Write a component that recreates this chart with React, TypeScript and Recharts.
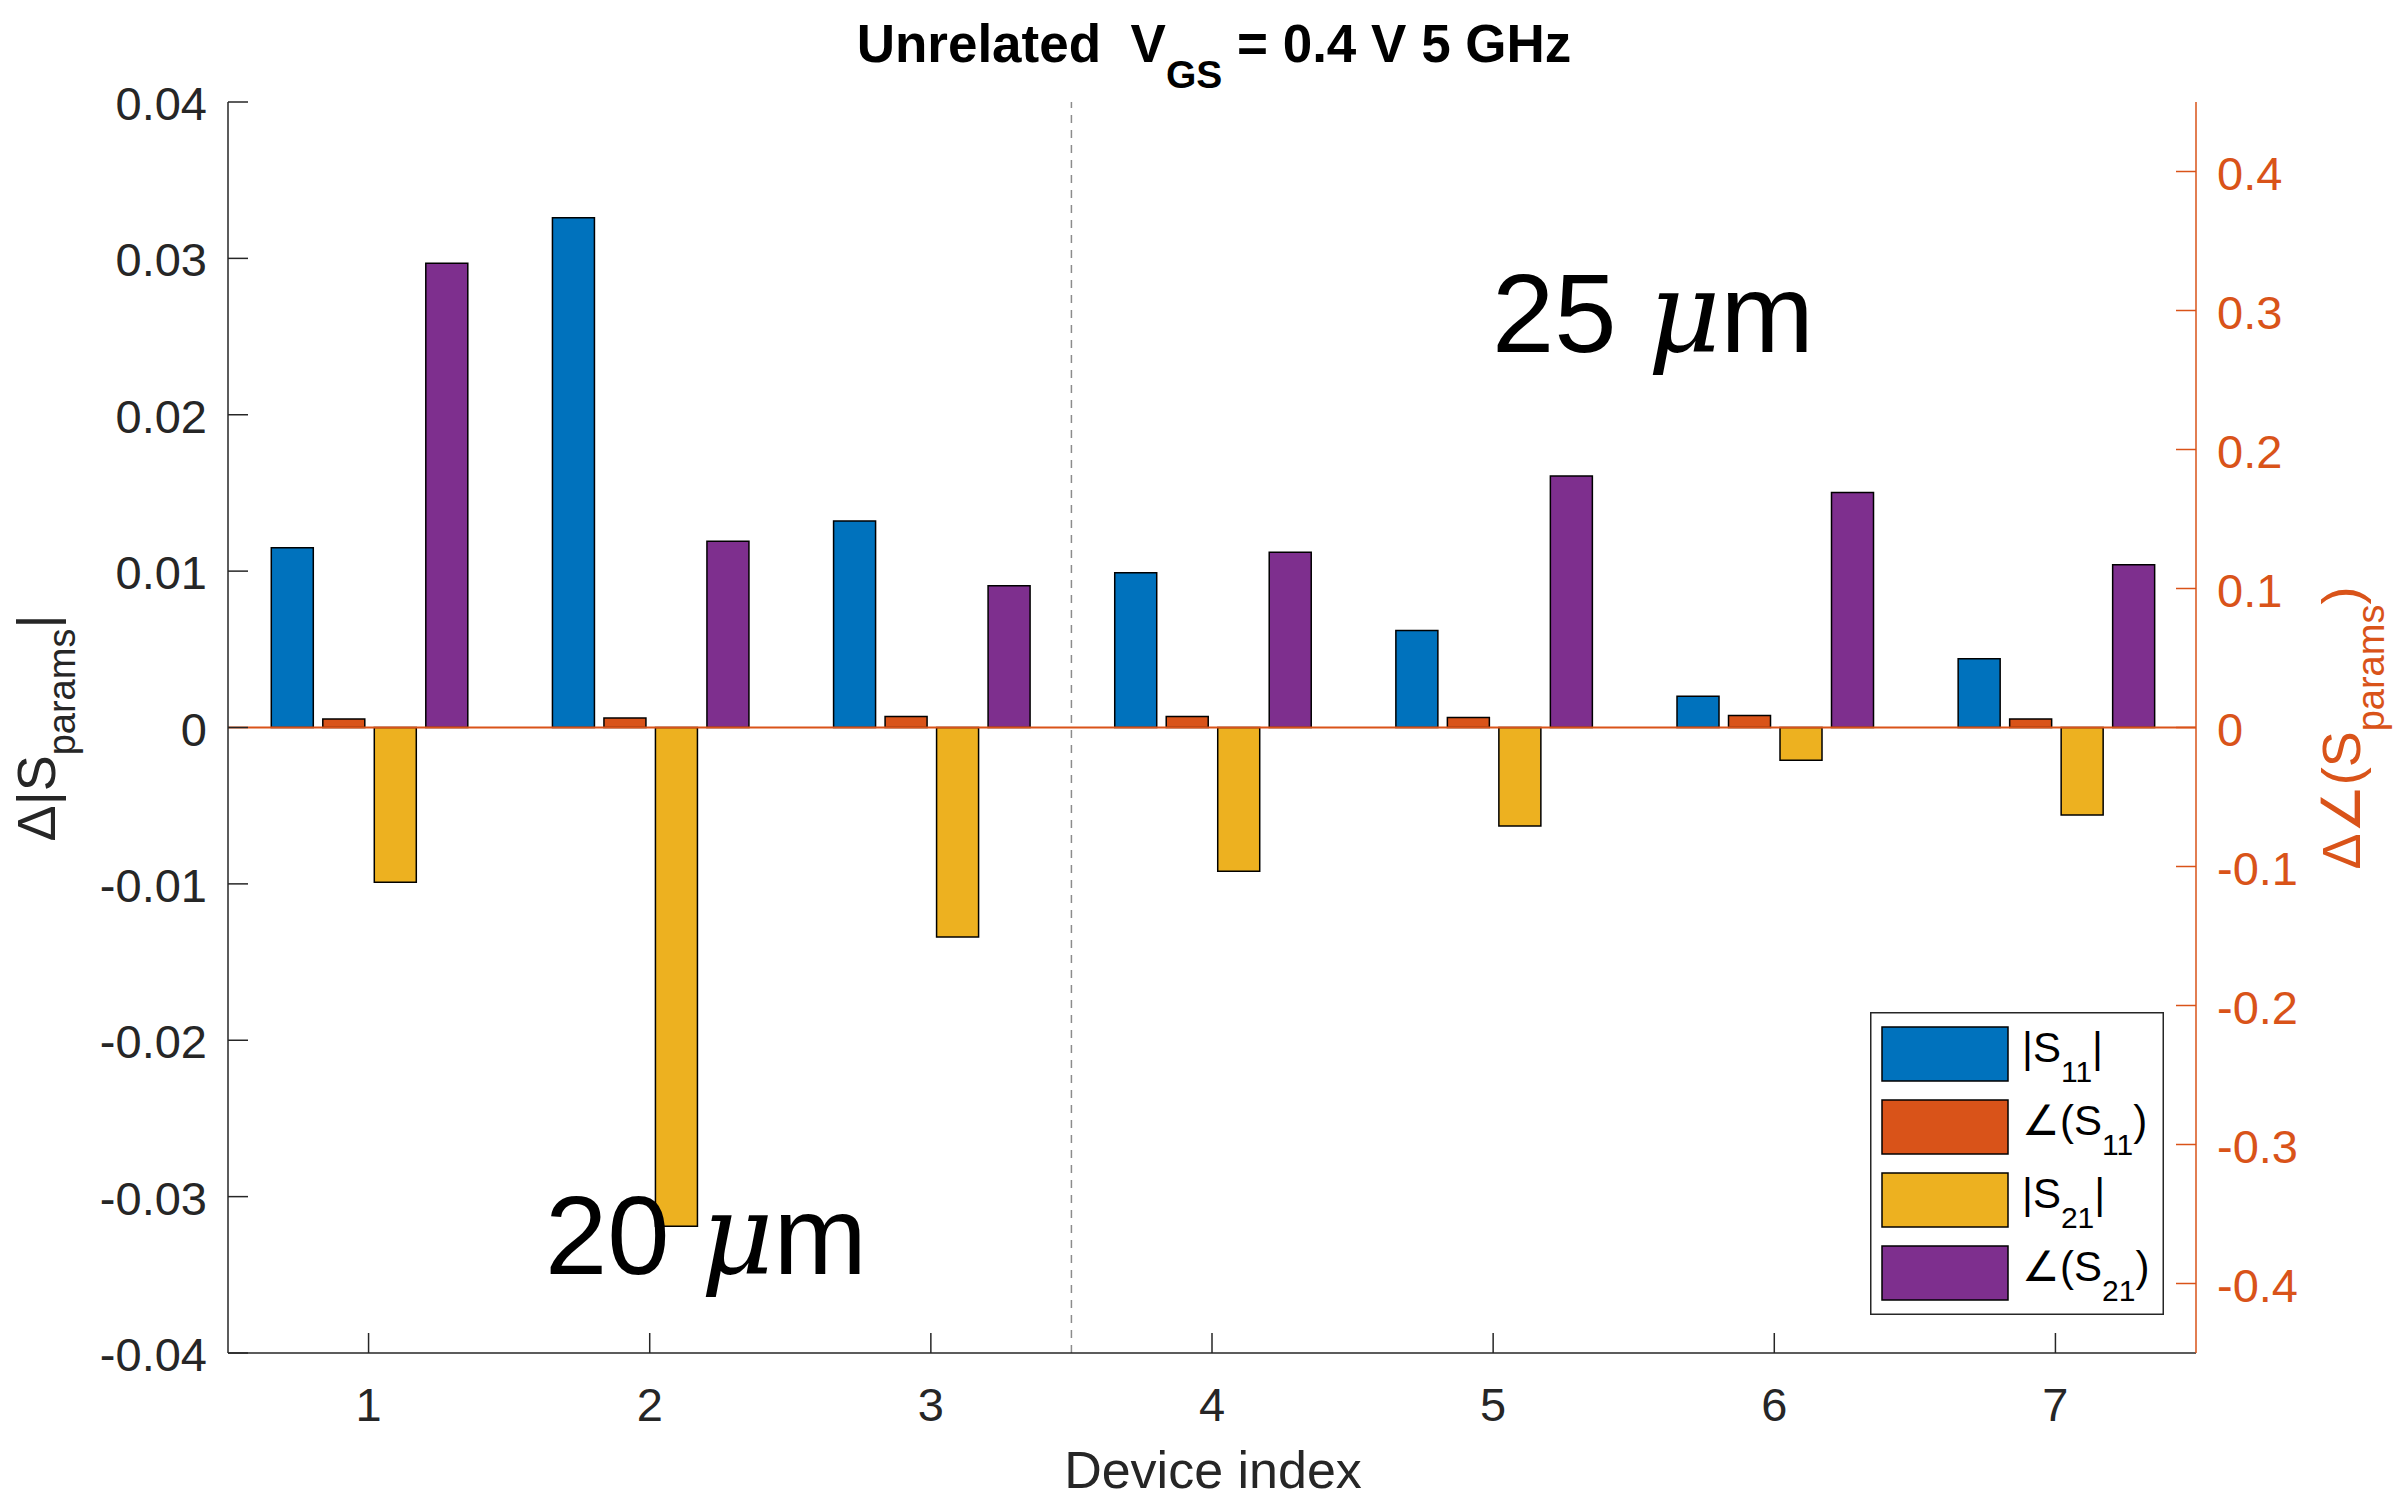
import React from "react";
import {
  BarChart,
  Bar,
  XAxis,
  YAxis,
  ReferenceLine,
  Legend,
} from "recharts";

// device index on the x axis
const devices = [1, 2, 3, 4, 5, 6, 7];

// left axis: delta magnitude
const s11Mag = [0.0115, 0.0326, 0.0132, 0.0099, 0.0062, 0.002, 0.0044];
const s21Mag = [-0.0099, -0.0319, -0.0134, -0.0092, -0.0063, -0.0021, -0.0056];

// right axis: delta angle
const s11Ang = [0.0062, 0.0069, 0.0079, 0.0079, 0.0072, 0.0086, 0.0062];
const s21Ang = [0.334, 0.134, 0.102, 0.126, 0.181, 0.169, 0.117];

const leftTicks = [-0.04, -0.03, -0.02, -0.01, 0, 0.01, 0.02, 0.03, 0.04];
const rightTicks = [-0.4, -0.3, -0.2, -0.1, 0, 0.1, 0.2, 0.3, 0.4];

const data = devices.map((device, i) => ({
  device,
  s11Mag: s11Mag[i],
  s11Ang: s11Ang[i],
  s21Mag: s21Mag[i],
  s21Ang: s21Ang[i],
}));

const FONT = '"Liberation Sans", Arial, Helvetica, sans-serif';
const AXIS = "#262626";
const ORANGE = "#D95319";

const SERIES = [
  { key: "s11Mag", color: "#0072BD", pre: "|S", sub: "11", post: "|" },
  { key: "s11Ang", color: "#D95319", pre: "\u2220(S", sub: "11", post: ")" },
  { key: "s21Mag", color: "#EDB120", pre: "|S", sub: "21", post: "|" },
  { key: "s21Ang", color: "#7E2F8E", pre: "\u2220(S", sub: "21", post: ")" },
];

function LeftTick({ x, y, payload }: any) {
  const v = payload.value as number;
  return (
    <g>
      <line x1={x} x2={x + 20} y1={y} y2={y} stroke={AXIS} strokeWidth={1.5} />
      <text x={x - 21} y={y + 18} textAnchor="end" fontSize={47} fontFamily={FONT} fill={AXIS}>
        {v === 0 ? "0" : v.toFixed(2)}
      </text>
    </g>
  );
}

function RightTick({ x, y, payload }: any) {
  const v = payload.value as number;
  return (
    <g>
      <line x1={x} x2={x - 20} y1={y} y2={y} stroke={ORANGE} strokeWidth={1.5} />
      <text x={x + 21} y={y + 18} textAnchor="start" fontSize={47} fontFamily={FONT} fill={ORANGE}>
        {v === 0 ? "0" : v.toFixed(1)}
      </text>
    </g>
  );
}

function BottomTick({ x, y, payload }: any) {
  return (
    <g>
      <line x1={x} x2={x} y1={y} y2={y - 20} stroke={AXIS} strokeWidth={1.5} />
      <text x={x} y={y + 68} textAnchor="middle" fontSize={47} fontFamily={FONT} fill={AXIS}>
        {payload.value}
      </text>
    </g>
  );
}

function TopTick({ x, y }: any) {
  return <line x1={x} x2={x} y1={y} y2={y + 20} stroke={AXIS} strokeWidth={1.5} />;
}

function LegendBox({ payload }: any) {
  const colorOf = (key: string, fallback: string) => {
    const hit = (payload || []).find((p: any) => p.dataKey === key);
    return hit ? hit.color : fallback;
  };
  return (
    <svg width={294} height={303} style={{ display: "block" }}>
      <rect x={0.75} y={0.75} width={292.5} height={301.5} fill="#fff" stroke={AXIS} strokeWidth={1.5} />
      {SERIES.map((s, i) => {
        const top = 15 + i * 73;
        return (
          <g key={s.key}>
            <rect x={12} y={top} width={126} height={54} fill={colorOf(s.key, s.color)} stroke="#000" strokeWidth={1.5} />
            <text x={152} y={top + 35} fontSize={42} fontFamily={FONT} fill="#000">
              {s.pre}
              <tspan dy={20} fontSize={30}>{s.sub}</tspan>
              <tspan dy={-20}>{s.post}</tspan>
            </text>
          </g>
        );
      })}
    </svg>
  );
}

export default function App() {
  return (
    <div style={{ position: "absolute", left: 0, top: 0, width: 2400, height: 1500, background: "#fff" }}>
      <BarChart
        width={2400}
        height={1500}
        data={data}
        margin={{ top: 102, right: 0, bottom: 0, left: 0 }}
        barCategoryGap="15.4%"
        barGap={9.5}
      >
        <XAxis
          dataKey="device"
          height={147}
          tickSize={0}
          tickMargin={0}
          interval={0}
          tickLine={false}
          axisLine={{ stroke: AXIS, strokeWidth: 1.5 }}
          tick={BottomTick}
        />
        <XAxis
          xAxisId="top"
          orientation="top"
          dataKey="device"
          height={0}
          tickSize={0}
          tickMargin={0}
          interval={0}
          tickLine={false}
          axisLine={{ stroke: AXIS, strokeWidth: 1.5 }}
          tick={TopTick}
        />
        <YAxis
          yAxisId="left"
          width={228}
          domain={[-0.04, 0.04]}
          ticks={leftTicks}
          interval={0}
          tickSize={0}
          tickMargin={0}
          tickLine={false}
          axisLine={{ stroke: AXIS, strokeWidth: 1.5 }}
          tick={LeftTick}
        />
        <YAxis
          yAxisId="right"
          orientation="right"
          width={204}
          domain={[-0.45, 0.45]}
          ticks={rightTicks}
          interval={0}
          tickSize={0}
          tickMargin={0}
          tickLine={false}
          axisLine={{ stroke: ORANGE, strokeWidth: 1.5 }}
          tick={RightTick}
        />
        <ReferenceLine
          yAxisId="left"
          x={3}
          position="end"
          stroke="#8c8c8c"
          strokeWidth={1.5}
          strokeDasharray="8 7"
        />
        <ReferenceLine yAxisId="right" y={0} stroke={ORANGE} strokeWidth={2} />
        {SERIES.map((s) => (
          <Bar
            key={s.key}
            dataKey={s.key}
            name={s.key}
            yAxisId={s.key.endsWith("Ang") ? "right" : "left"}
            fill={s.color}
            stroke="#000"
            strokeWidth={1.5}
            isAnimationActive={false}
          />
        ))}
        <Legend
          layout="vertical"
          align="center"
          verticalAlign="middle"
          content={LegendBox}
          wrapperStyle={{ left: 1870, top: 1012, width: 294, height: 303 }}
        />
      </BarChart>

      <svg
        width={2400}
        height={1500}
        style={{ position: "absolute", left: 0, top: 0, pointerEvents: "none" }}
        fontFamily={FONT}
      >
        <text x={1214} y={62} textAnchor="middle" fontSize={53} fontWeight="bold" fill="#000" xmlSpace="preserve" style={{ whiteSpace: "pre" }}>
          {"Unrelated  V"}
          <tspan dy={26} fontSize={39}>GS</tspan>
          <tspan dy={-26}>{" = 0.4 V 5 GHz"}</tspan>
        </text>

        <text transform="translate(55,728) rotate(-90)" textAnchor="middle" fontSize={54} fill={AXIS}>
          {"\u0394|S"}
          <tspan dy={20} fontSize={38}>params</tspan>
          <tspan dy={-20}>|</tspan>
        </text>

        <text transform="translate(2360,728) rotate(-90)" textAnchor="middle" fontSize={54} fill={ORANGE}>
          {"\u0394\u2220(S"}
          <tspan dy={24} fontSize={38}>params</tspan>
          <tspan dy={-24}>)</tspan>
        </text>

        <text x={1213} y={1488} textAnchor="middle" fontSize={52} fill={AXIS}>
          Device index
        </text>

        <text x={1492} y={352} fontSize={112} fill="#000" xmlSpace="preserve" style={{ whiteSpace: "pre" }}>
          {"25 "}
          <tspan fontStyle="italic" fontFamily='"DejaVu Serif", serif'>{"\u03bc"}</tspan>
          m
        </text>
        <text x={545} y={1274} fontSize={112} fill="#000" xmlSpace="preserve" style={{ whiteSpace: "pre" }}>
          {"20 "}
          <tspan fontStyle="italic" fontFamily='"DejaVu Serif", serif'>{"\u03bc"}</tspan>
          m
        </text>
      </svg>
    </div>
  );
}
